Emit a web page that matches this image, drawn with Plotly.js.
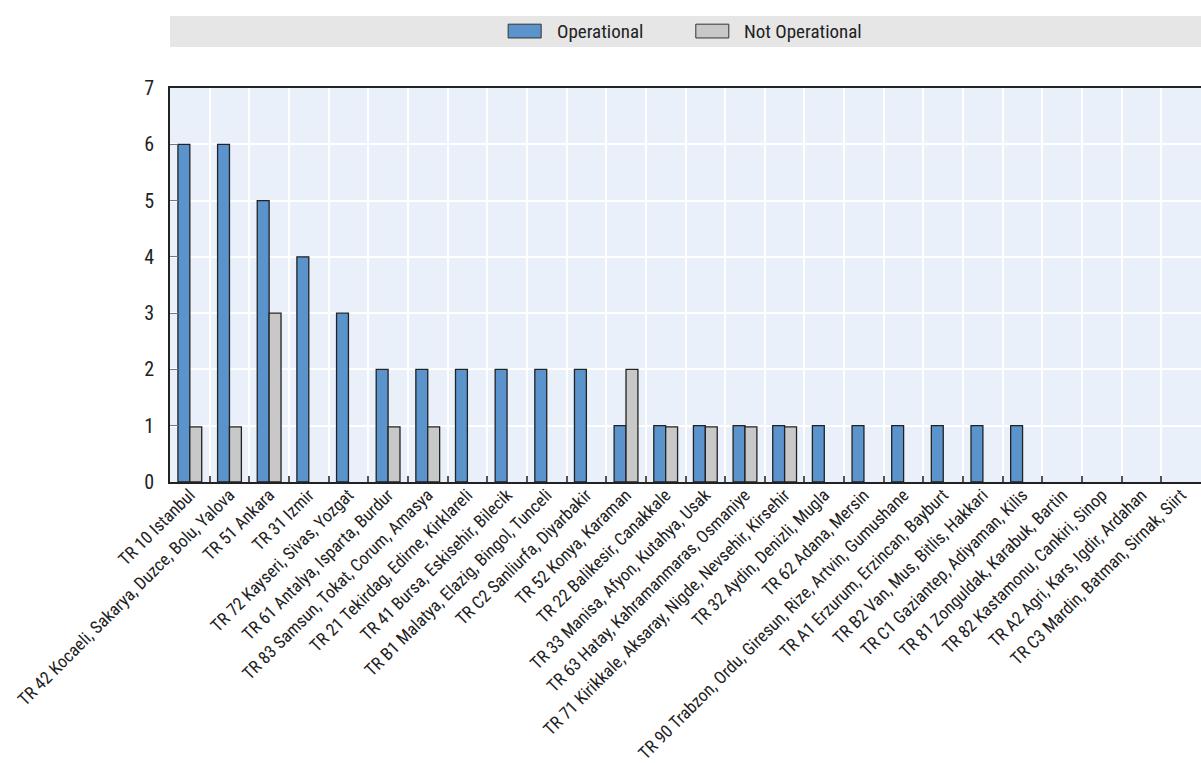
<!DOCTYPE html>
<html><head><meta charset="utf-8">
<script src="https://cdn.plot.ly/plotly-3.0.1.min.js"></script>
<style>html,body{margin:0;padding:0;background:#fff;}#chart{width:1201px;height:763px;}</style>
</head><body><div id="chart"></div>
<script>
const categories = [
  "TR 10 Istanbul",
  "TR 42 Kocaeli, Sakarya, Duzce, Bolu, Yalova",
  "TR 51 Ankara",
  "TR 31 Izmir",
  "TR 72 Kayseri, Sivas, Yozgat",
  "TR 61 Antalya, Isparta, Burdur",
  "TR 83 Samsun, Tokat, Corum, Amasya",
  "TR 21 Tekirdag, Edirne, Kirklareli",
  "TR 41 Bursa, Eskisehir, Bilecik",
  "TR B1 Malatya, Elazig, Bingol, Tunceli",
  "TR C2 Sanliurfa, Diyarbakir",
  "TR 52 Konya, Karaman",
  "TR 22 Balikesir, Canakkale",
  "TR 33 Manisa, Afyon, Kutahya, Usak",
  "TR 63 Hatay, Kahramanmaras, Osmaniye",
  "TR 71 Kirikkale, Aksaray, Nigde, Nevsehir, Kirsehir",
  "TR 32 Aydin, Denizli, Mugla",
  "TR 62 Adana, Mersin",
  "TR 90 Trabzon, Ordu, Giresun, Rize, Artvin, Gumushane",
  "TR A1 Erzurum, Erzincan, Bayburt",
  "TR B2 Van, Mus, Bitlis, Hakkari",
  "TR C1 Gaziantep, Adiyaman, Kilis",
  "TR 81 Zonguldak, Karabuk, Bartin",
  "TR 82 Kastamonu, Cankiri, Sinop",
  "TR A2 Agri, Kars, Igdir, Ardahan",
  "TR C3 Mardin, Batman, Sirnak, Siirt"
];
const operational    = [6,6,5,4,3,2,2,2,2,2,2,1,1,1,1,1,1,1,1,1,1,1,0,0,0,0];
const notOperational = [0.98,0.98,3,0,0,0.98,0.98,0,0,0,0,2,0.98,0.98,0.98,0.98,0,0,0,0,0,0,0,0,0,0];
const seriesNames = ["Operational", "Not Operational"];
const seriesColors = ["#5b93cd", "#c8c8c8"];

const FONT = "'Liberation Sans Narrow', 'Arial Narrow', 'Roboto Condensed', Roboto, sans-serif";

const traces = [operational, notOperational].map((vals, i) => ({
  type: "bar",
  name: seriesNames[i],
  x: categories,
  y: vals.map(v => v === 0 ? null : v),
  marker: {color: seriesColors[i], line: {color: "#222222", width: 1.3}},
  showlegend: false,
  hoverinfo: "x+y+name"
}));

// manual legend
const legX = [0.328, 0.510];
const shapes = [
  {type: "rect", xref: "paper", yref: "paper", x0: 0, x1: 1, y0: 1.104, y1: 1.183,
   fillcolor: "#e6e6e6", line: {width: 0}, layer: "below"}
];
const annotations = [];
seriesNames.forEach((n, i) => {
  shapes.push({type: "rect", xref: "paper", yref: "paper",
    x0: legX[i], x1: legX[i] + 0.032, y0: 1.127, y1: 1.162,
    fillcolor: seriesColors[i], line: {color: "#333333", width: 1}});
  annotations.push({xref: "paper", yref: "paper", x: legX[i] + 0.045, y: 1.144,
    xanchor: "left", yanchor: "middle", showarrow: false, text: n,
    font: {family: FONT, size: 19, color: "#222"}});
});

const layout = {
  width: 1201, height: 763,
  margin: {l: 170, r: 0, t: 88, b: 281},
  paper_bgcolor: "#ffffff",
  plot_bgcolor: "#eaf0f9",
  barmode: "group",
  bargap: 0.4,
  bargroupgap: 0,
  font: {family: FONT, color: "#222"},
  xaxis: {
    type: "category",
    tickson: "boundaries",
    showgrid: true, gridcolor: "#ffffff", gridwidth: 1.5,
    ticks: "inside", ticklen: 6, tickcolor: "#555", tickwidth: 1.5,
    tickangle: -45,
    tickfont: {family: FONT, size: 17.5, color: "#222"},
    ticklabelstandoff: -6,
    showline: true, linecolor: "#222", linewidth: 2, mirror: true,
    fixedrange: true
  },
  yaxis: {
    range: [0, 7], dtick: 1, tick0: 0,
    showgrid: true, gridcolor: "#ffffff", gridwidth: 1.5,
    zeroline: false,
    ticks: "inside", ticklen: 8, tickcolor: "#777", tickwidth: 1,
    tickfont: {family: FONT, size: 20, color: "#222"},
    ticklabelstandoff: 10,
    showline: true, linecolor: "#222", linewidth: 2,
    fixedrange: true
  },
  shapes: shapes,
  annotations: annotations
};

Plotly.newPlot("chart", traces, layout, {displayModeBar: false});
</script>
</body></html>
